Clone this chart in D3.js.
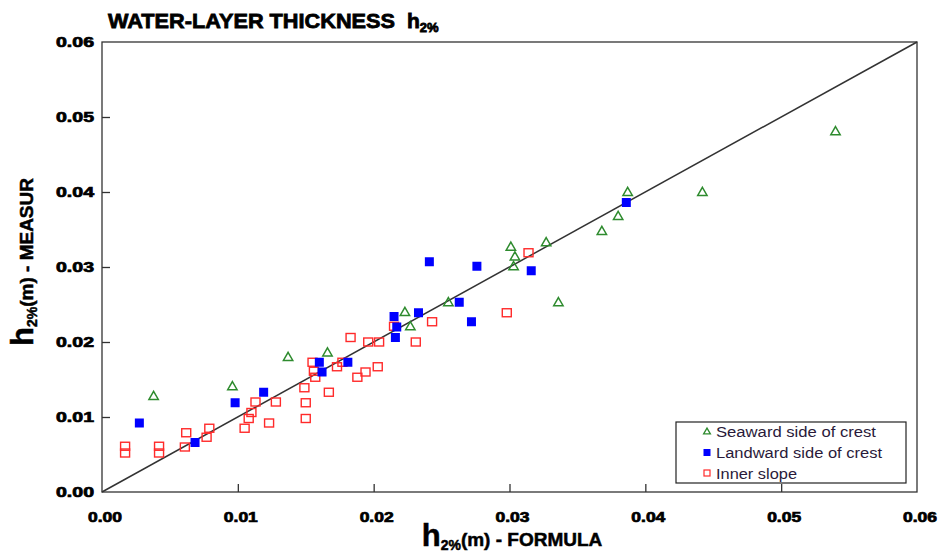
<!DOCTYPE html>
<html>
<head>
<meta charset="utf-8">
<script src="https://cdn.jsdelivr.net/npm/d3@7"></script>
<style>
  body { margin: 0; background: #fff; }
  svg { display: block; }
</style>
</head>
<body>
<div class="chart"></div>
<script>
var ticks = [0, 0.01, 0.02, 0.03, 0.04, 0.05, 0.06];
var tickLabels = ['0.00', '0.01', '0.02', '0.03', '0.04', '0.05', '0.06'];

var seawardX = [0.0038, 0.0096, 0.0137, 0.0166, 0.0223, 0.0227, 0.0255, 0.0301, 0.0304, 0.0303, 0.0327, 0.0336, 0.0368, 0.0380, 0.0387, 0.0442, 0.0540];
var seawardY = [0.0127, 0.0140, 0.0179, 0.0185, 0.0239, 0.0220, 0.0252, 0.0326, 0.0313, 0.0300, 0.0332, 0.0252, 0.0347, 0.0367, 0.0399, 0.0399, 0.0480];

var landwardX = [0.00275, 0.00685, 0.0098, 0.0119, 0.0160, 0.0162, 0.0181, 0.0215, 0.0217, 0.0216, 0.0233, 0.0241, 0.0263, 0.0272, 0.0276, 0.0316, 0.0386];
var landwardY = [0.0092, 0.0066, 0.0119, 0.0133, 0.0173, 0.0160, 0.0173, 0.0234, 0.0220, 0.0206, 0.0239, 0.0307, 0.0253, 0.0227, 0.0301, 0.0295, 0.0386];

var innerX = [0.0017, 0.0017, 0.0042, 0.0042, 0.0061, 0.0062, 0.0077, 0.0079, 0.0105, 0.0108, 0.0110, 0.0113, 0.0123, 0.0128, 0.0149, 0.0150, 0.0150, 0.0155, 0.0156, 0.0157, 0.0167, 0.0173, 0.0177, 0.0183, 0.0188, 0.0194, 0.0196, 0.0203, 0.0204, 0.0215, 0.0231, 0.0243, 0.0298, 0.0314];
var innerY = [0.0061, 0.0052, 0.0061, 0.0052, 0.0060, 0.0079, 0.0073, 0.0085, 0.0085, 0.0098, 0.0106, 0.0120, 0.0092, 0.0120, 0.0139, 0.0119, 0.0098, 0.0173, 0.0161, 0.0153, 0.0133, 0.0167, 0.0173, 0.0206, 0.0153, 0.0160, 0.0200, 0.0167, 0.0200, 0.0221, 0.0200, 0.0227, 0.0239, 0.0319];

var legendNames = ['Seaward side of crest', 'Landward side of crest', 'Inner slope'];
var legendLen = [160, 166, 81];

var width = 941,
    height = 555;

var x = d3.scaleLinear().domain([0, 0.06]).range([102, 917]);
var y = d3.scaleLinear().domain([0, 0.06]).range([492, 42]);

var svg = d3.select('.chart').append('svg')
    .attr('width', width)
    .attr('height', height);

// frame
svg.append('rect')
    .attr('x', x(0))
    .attr('y', y(0.06))
    .attr('width', x(0.06) - x(0))
    .attr('height', y(0) - y(0.06))
    .attr('fill', 'none')
    .attr('stroke', '#333')
    .attr('stroke-width', 1.3);

// inner ticks
var xAxis = d3.axisTop(x).tickValues(ticks.slice(1, 6)).tickSize(8).tickFormat('');
var yAxis = d3.axisRight(y).tickValues(ticks.slice(1, 6)).tickSize(8).tickFormat('');

svg.append('g')
    .attr('transform', 'translate(0,' + y(0) + ')')
    .call(xAxis)
    .call(function(g) { g.select('.domain').remove(); })
    .selectAll('line').attr('stroke', '#333').attr('stroke-width', 1.3);

svg.append('g')
    .attr('transform', 'translate(' + x(0) + ',0)')
    .call(yAxis)
    .call(function(g) { g.select('.domain').remove(); })
    .selectAll('line').attr('stroke', '#333').attr('stroke-width', 1.3);

// tick labels (heavy, squeezed like the original)
svg.selectAll('.xlab')
    .data(ticks)
    .enter().append('text')
    .attr('x', function(d) { return x(d) + 3; })
    .attr('y', 522)
    .attr('text-anchor', 'middle')
    .attr('textLength', 34)
    .attr('lengthAdjust', 'spacingAndGlyphs')
    .attr('stroke', '#000')
    .attr('stroke-width', 0.7)
    .style('font', 'bold 14px "Liberation Sans", Arial, sans-serif')
    .text(function(d, i) { return tickLabels[i]; });

svg.selectAll('.ylab')
    .data(ticks)
    .enter().append('text')
    .attr('x', 94)
    .attr('y', function(d) { return y(d) + 5; })
    .attr('text-anchor', 'end')
    .attr('textLength', 38)
    .attr('lengthAdjust', 'spacingAndGlyphs')
    .attr('stroke', '#000')
    .attr('stroke-width', 0.7)
    .style('font', 'bold 14px "Liberation Sans", Arial, sans-serif')
    .text(function(d, i) { return tickLabels[i]; });

// 1:1 line
svg.append('line')
    .attr('x1', x(0)).attr('y1', y(0))
    .attr('x2', x(0.06)).attr('y2', y(0.06))
    .attr('stroke', '#333')
    .attr('stroke-width', 1.5);

// points
var inner = innerX.map(function(v, i) { return [v, innerY[i]]; });
var land = landwardX.map(function(v, i) { return [v, landwardY[i]]; });
var sea = seawardX.map(function(v, i) { return [v, seawardY[i]]; });

svg.selectAll('.inner')
    .data(inner)
    .enter().append('rect')
    .attr('x', function(d) { return x(d[0]) - 4.5; })
    .attr('y', function(d) { return y(d[1]) - 4; })
    .attr('width', 9)
    .attr('height', 8)
    .attr('fill', 'none')
    .attr('stroke', '#ff2a2a')
    .attr('stroke-width', 1.4);

svg.selectAll('.land')
    .data(land)
    .enter().append('rect')
    .attr('x', function(d) { return x(d[0]) - 4.5; })
    .attr('y', function(d) { return y(d[1]) - 4.5; })
    .attr('width', 9)
    .attr('height', 9)
    .attr('fill', '#0000ff');

var tri = d3.symbol().type(d3.symbolTriangle).size(38);

svg.selectAll('.sea')
    .data(sea)
    .enter().append('path')
    .attr('transform', function(d) { return 'translate(' + x(d[0]) + ',' + y(d[1]) + ')'; })
    .attr('d', tri)
    .attr('fill', 'none')
    .attr('stroke', '#2e8b2e')
    .attr('stroke-width', 1.5);

// legend
var lg = svg.append('g');
lg.append('rect')
    .attr('x', 676).attr('y', 422)
    .attr('width', 230).attr('height', 61)
    .attr('fill', '#fff')
    .attr('stroke', '#222')
    .attr('stroke-width', 1.2);

lg.append('path')
    .attr('transform', 'translate(707,432)')
    .attr('d', d3.symbol().type(d3.symbolTriangle).size(20))
    .attr('fill', 'none')
    .attr('stroke', '#2e8b2e')
    .attr('stroke-width', 1.3);
lg.append('rect')
    .attr('x', 703.5).attr('y', 449).attr('width', 7).attr('height', 7)
    .attr('fill', '#0000ff');
lg.append('rect')
    .attr('x', 704).attr('y', 470).attr('width', 6).attr('height', 6)
    .attr('fill', 'none').attr('stroke', '#ff2a2a').attr('stroke-width', 1.2);

lg.selectAll('.lt')
    .data(legendNames)
    .enter().append('text')
    .attr('x', 716)
    .attr('y', function(d, i) { return 437 + i * 21; })
    .attr('textLength', function(d, i) { return legendLen[i]; })
    .attr('lengthAdjust', 'spacingAndGlyphs')
    .style('font', '14px "Liberation Sans", Arial, sans-serif')
    .attr('fill', '#2a1a3a')
    .text(function(d) { return d; });

// title
var title = svg.append('text')
    .attr('x', 108)
    .attr('y', 28)
    .attr('stroke', '#000')
    .attr('stroke-width', 0.8)
    .style('font', 'bold 21px "Liberation Sans", Arial, sans-serif');
title.append('tspan')
    .attr('textLength', 287)
    .attr('lengthAdjust', 'spacingAndGlyphs')
    .text('WATER-LAYER THICKNESS');
title.append('tspan').attr('dx', 12).text('h');
title.append('tspan').attr('dy', 4).style('font-size', '13px').text('2%');

// x label
var xl = svg.append('text')
    .attr('x', 512)
    .attr('y', 546)
    .attr('text-anchor', 'middle')
    .attr('stroke', '#000')
    .attr('stroke-width', 0.5)
    .style('font', 'bold 19px "Liberation Sans", Arial, sans-serif');
xl.append('tspan').style('font-size', '31px').text('h');
xl.append('tspan').attr('dy', 4).style('font-size', '14px').text('2%');
xl.append('tspan').attr('dy', -4).text('(m) - FORMULA');

// y label
var yl = svg.append('text')
    .attr('transform', 'translate(33,262) rotate(-90)')
    .attr('text-anchor', 'middle')
    .attr('stroke', '#000')
    .attr('stroke-width', 0.5)
    .style('font', 'bold 19px "Liberation Sans", Arial, sans-serif');
yl.append('tspan').style('font-size', '31px').text('h');
yl.append('tspan').attr('dy', 4).style('font-size', '14px').text('2%');
yl.append('tspan').attr('dy', -4).text('(m) - MEASUR');
</script>
</body>
</html>
